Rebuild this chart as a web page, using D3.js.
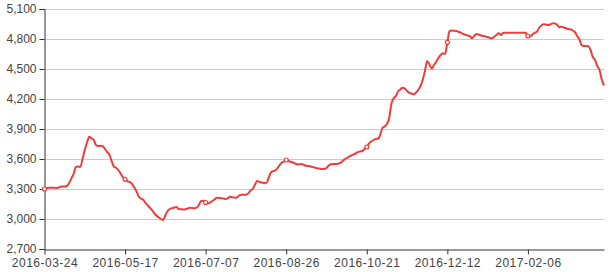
<!DOCTYPE html>
<html><head><meta charset="utf-8">
<script src="https://cdn.jsdelivr.net/npm/d3@7"></script>
<style>html,body{margin:0;padding:0;background:#fff;}svg{display:block;}</style>
</head><body><svg id="c" width="610" height="272"></svg>
<script>
const values = [
3300,3310,3312,3312,3313,3311,3312,3322,3325,3325,
3330,3360,3405,3450,3520,3525,3520,3600,3690,3765,
3822,3805,3790,3740,3730,3732,3730,3700,3670,3645,
3580,3525,3512,3490,3455,3420,3397,3378,3370,3355,
3320,3280,3230,3205,3195,3165,3140,3115,3090,3060,
3035,3017,3000,2990,3035,3080,3100,3108,3115,3120,
3100,3097,3095,3097,3105,3113,3110,3107,3115,3140,
3180,3182,3165,3157,3165,3180,3195,3213,3210,3207,
3205,3200,3210,3223,3218,3213,3215,3235,3242,3243,
3243,3255,3283,3300,3340,3380,3372,3365,3360,3357,
3400,3460,3478,3483,3505,3538,3563,3575,3590,3580,
3573,3565,3555,3545,3548,3550,3540,3532,3530,3525,
3520,3512,3507,3503,3500,3500,3510,3535,3548,3550,
3550,3552,3558,3575,3595,3610,3622,3635,3645,3655,
3668,3675,3680,3700,3720,3755,3775,3790,3800,3803,
3840,3910,3925,3950,4010,4150,4205,4230,4275,4295,
4313,4305,4280,4262,4255,4247,4265,4290,4330,4390,
4480,4580,4545,4505,4540,4570,4610,4640,4657,4650,
4767,4880,4885,4883,4880,4872,4863,4852,4842,4835,
4830,4807,4830,4850,4845,4835,4830,4825,4820,4810,
4808,4825,4840,4857,4840,4862,4863,4863,4863,4863,
4863,4863,4863,4863,4863,4863,4830,4828,4845,4862,
4873,4910,4935,4947,4945,4940,4945,4957,4955,4945,
4917,4923,4915,4907,4900,4897,4885,4870,4830,4797,
4740,4730,4730,4728,4690,4620,4590,4530,4490,4395,
4335
];
const tickLabels = ["2016-03-24","2016-05-17","2016-07-07","2016-08-26","2016-10-21","2016-12-12","2017-02-06"];
const tickIndex = [0,36,72,108,144,180,216];
const yTicks = [2700,3000,3300,3600,3900,4200,4500,4800,5100];

const svg = d3.select("#c");
const L = 44.5, R = 604, T = 9, B = 249;
const font = "'Liberation Sans', Arial, sans-serif";
const x = d3.scaleLinear().domain([0, values.length - 1]).range([L, R]);
const y = d3.scaleLinear().domain([2700, 5100]).range([B, T]);

// gridlines
svg.append("g").selectAll("line").data(yTicks.slice(1)).join("line")
  .attr("x1", L).attr("x2", R)
  .attr("y1", d => Math.round(y(d)) + 0.5).attr("y2", d => Math.round(y(d)) + 0.5)
  .attr("stroke", "#ccc").attr("stroke-width", 1);

// y axis
const yAxis = d3.axisLeft(y).tickValues(yTicks).tickSize(5).tickPadding(3).tickFormat(d3.format(","));
const gy = svg.append("g").attr("transform", `translate(${Math.round(L)-0.5},0)`).call(yAxis);
gy.select(".domain").attr("stroke", "#333");
gy.selectAll(".tick line").attr("stroke", "#333");
gy.selectAll("text").attr("fill", "#444").style("font-family", font).style("font-size", "12px");

// x axis
const xAxis = d3.axisBottom(x).tickValues(tickIndex).tickSize(5).tickPadding(4)
  .tickFormat((d, i) => tickLabels[i]).tickSizeOuter(0);
const gx = svg.append("g").attr("transform", `translate(0,${B + 0.5})`).call(xAxis);
gx.select(".domain").attr("stroke", "#333");
gx.selectAll(".tick line").attr("stroke", "#333");
gx.selectAll("text").attr("fill", "#444").style("font-family", font).style("font-size", "12px")
  .style("letter-spacing", "0.5px");

// line
const line = d3.line().x((d, i) => x(i)).y(d => y(d)).curve(d3.curveMonotoneX);
svg.append("path").datum(values).attr("d", line)
  .attr("fill", "none").attr("stroke", "#f33b3b").attr("stroke-width", 2)
  .attr("stroke-linejoin", "round");

// symbols at labelled categories
svg.append("g").selectAll("circle").data(tickIndex).join("circle")
  .attr("cx", d => x(d)).attr("cy", d => y(values[d])).attr("r", 2)
  .attr("fill", "#fff").attr("stroke", "#f33b3b").attr("stroke-width", 1.2);
</script></body></html>
